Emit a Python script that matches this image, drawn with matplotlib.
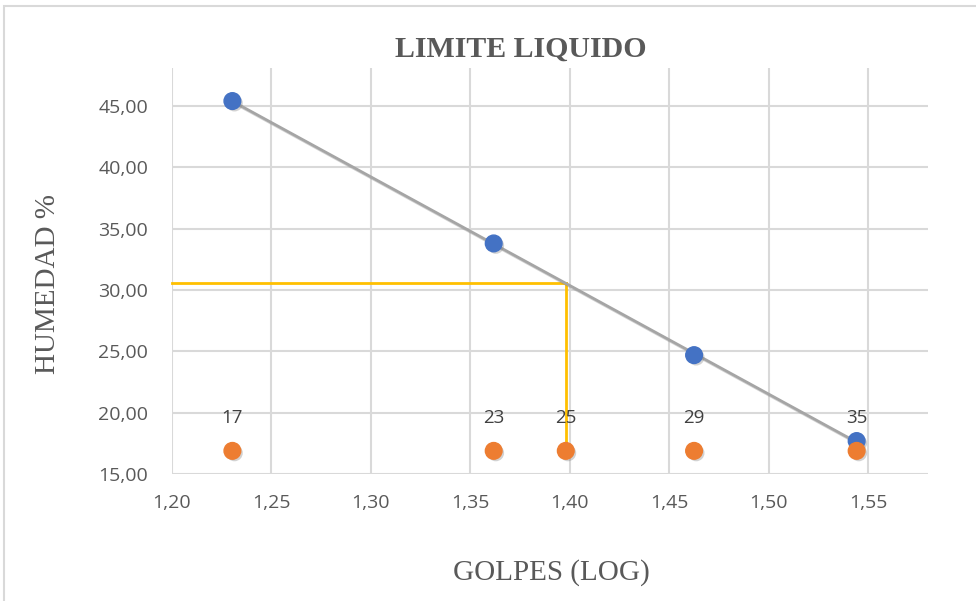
import numpy as np
import matplotlib
matplotlib.use("Agg")
import matplotlib.pyplot as plt
import matplotlib.patheffects as pe
from matplotlib.ticker import FuncFormatter

# datos
golpes = [17, 23, 29, 35]
humedad = [45.4, 33.8, 24.7, 17.7]
golpes_ref = [17, 23, 25, 29, 35]
y_ref = 16.9
golpes_ll = 25

x_log = np.log10(golpes)
x_ref = np.log10(golpes_ref)
m, b = np.polyfit(x_log, humedad, 1)
x_ll = np.log10(golpes_ll)
y_ll = m * x_ll + b

fig = plt.figure(figsize=(9.76, 6.01), dpi=100)
ax = fig.add_axes([0.176, 0.211, 0.775, 0.676])

line_shadow = [pe.SimpleLineShadow(offset=(1.5, -1.5), shadow_color='gray', alpha=0.35), pe.Normal()]
dot_shadow = [pe.SimplePatchShadow(offset=(1.5, -1.5), shadow_rgbFace='gray', alpha=0.35), pe.Normal()]

# linea de tendencia
xx = np.array([x_log[0], x_log[-1]])
ax.plot(xx, m * xx + b, color='#a5a5a5', lw=2, zorder=3, path_effects=line_shadow)

# lineas del limite liquido
ax.plot([1.20, x_ll], [y_ll, y_ll], color='#ffc000', lw=2, zorder=2, clip_on=False)
ax.plot([x_ll, x_ll], [y_ll, y_ref], color='#ffc000', lw=2, zorder=2)

ax.plot(x_log, humedad, 'o', color='#4472c4', ms=12, zorder=4, path_effects=dot_shadow)
ax.plot(x_ref, [y_ref] * len(x_ref), 'o', color='#ed7d31', ms=12, zorder=5, path_effects=dot_shadow)
for xv, g in zip(x_ref, golpes_ref):
    ax.annotate(str(g), (xv, y_ref), xytext=(0, 24), textcoords='offset points',
                ha='center', va='center', fontsize=13.5, color='#404040', family='Open Sans')

ax.set_xlim(1.20, 1.58)
ax.set_ylim(15, 48.1)
ax.set_xticks(np.arange(1.20, 1.56, 0.05))
ax.set_yticks(np.arange(15, 46, 5))
ax.xaxis.set_major_formatter(FuncFormatter(lambda v, p: f'{v:.2f}'.replace('.', ',')))
ax.yaxis.set_major_formatter(FuncFormatter(lambda v, p: f'{v:.2f}'.replace('.', ',')))
ax.tick_params(length=0, labelsize=14, labelcolor='#595959')
ax.tick_params(axis='y', pad=17)
ax.tick_params(axis='x', pad=14)
for lab in ax.get_xticklabels() + ax.get_yticklabels():
    lab.set_family('Open Sans')
ax.grid(True, color='#d9d9d9', lw=1.5)
ax.set_axisbelow(True)
for s in ax.spines.values():
    s.set_visible(False)

fig.text(0.534, 0.918, 'LIMITE LIQUIDO', fontsize=21.5, fontweight='bold', color='#595959',
         family='Liberation Serif', ha='center', va='center')
fig.text(0.5646, 0.048, 'GOLPES (LOG)', fontsize=21, color='#595959',
         family='Liberation Serif', ha='center', va='center')
fig.text(0.049, 0.527, 'HUMEDAD %', fontsize=21, color='#595959', rotation=90,
         family='Liberation Serif', ha='center', va='center')

fig.patches.append(plt.Rectangle((0.004, -0.1), 1.2, 1.09, transform=fig.transFigure,
                                 fill=False, edgecolor='#d9d9d9', lw=1.5))

fig.savefig('out.png', dpi=100)
